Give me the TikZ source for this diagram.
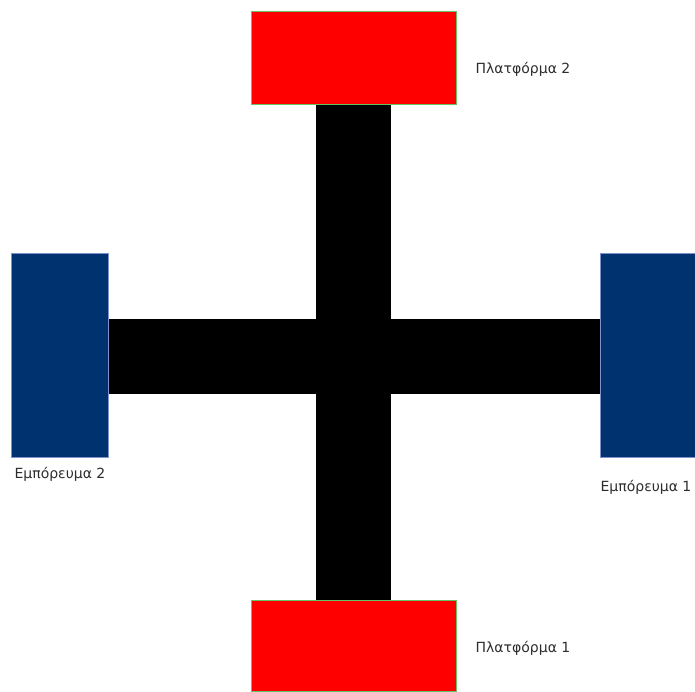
\documentclass[tikz,border=0pt]{standalone}
\usepackage{fontspec}
\setmainfont{DejaVu Sans}
\definecolor{platred}{RGB}{255,0,0}
\definecolor{goodsblue}{RGB}{0,50,112}
\definecolor{labelgray}{RGB}{45,45,45}
\tikzset{
  platbox/.style={fill=platred,draw=green!60!black!60,line width=0.3pt,minimum width=205pt,minimum height=93pt,inner sep=0pt},
  goodsbox/.style={fill=goodsblue,draw=blue!30!goodsblue!50,line width=0.3pt,minimum width=97pt,minimum height=204pt,inner sep=0pt},
  lbl/.style={text=labelgray,font=\fontsize{14}{16}\selectfont,inner sep=0pt}
}
\begin{document}
\begin{tikzpicture}[x=1pt,y=-1pt]
\useasboundingbox (0,0) rectangle (695,691);
% track cross
\fill[black] (316,104) rectangle (391,600);
\fill[black] (108,319) rectangle (600,394);
% platforms
\node[platbox] (plat2) at (353.5,58) {};
\node[platbox,minimum height=91pt] (plat1) at (353.5,645.5) {};
% goods
\node[goodsbox] (goods2) at (59.5,355) {};
\node[goodsbox,minimum width=96pt] (goods1) at (648,355) {};
% labels
\node[lbl] (lplat2) at (523,69) {Πλατφόρμα 2};
\node[lbl] (lplat1) at (523,648) {Πλατφόρμα 1};
\node[lbl] (lgoods2) at (60,474) {Εμπόρευμα 2};
\node[lbl] (lgoods1) at (646,487) {Εμπόρευμα 1};
\end{tikzpicture}
\end{document}
